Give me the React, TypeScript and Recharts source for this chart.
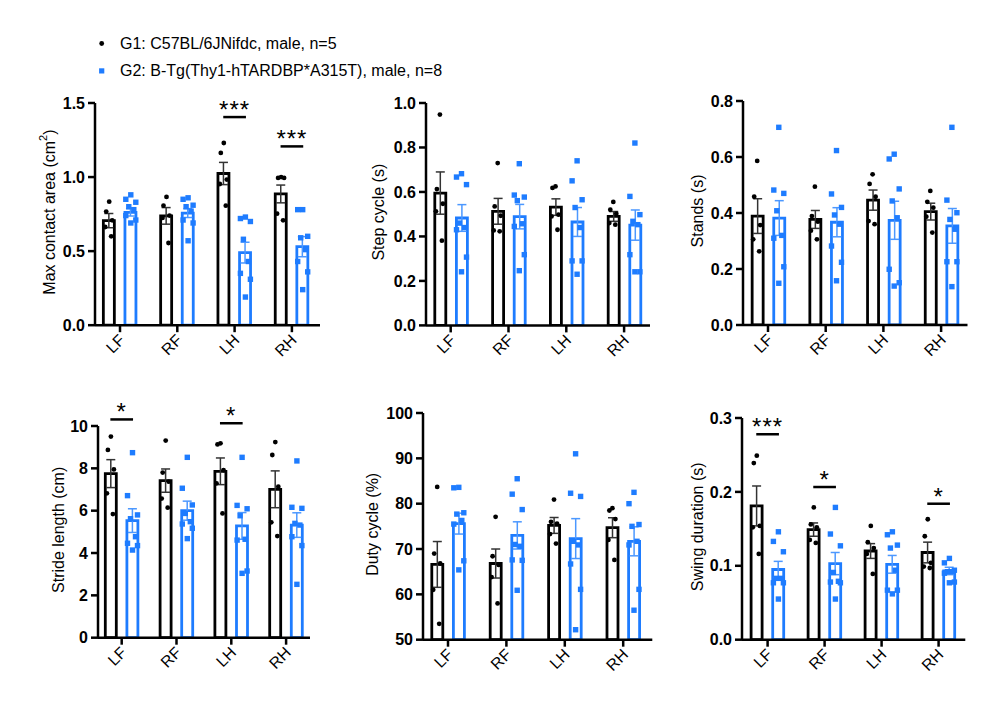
import React from 'react';
import { ComposedChart, Bar, Scatter, XAxis, YAxis, ErrorBar, ReferenceLine } from 'recharts';

const LIMBS = ['LF', 'RF', 'LH', 'RH'];
const G1_LABEL = 'G1: C57BL/6JNifdc, male, n=5';
const G2_LABEL = 'G2: B-Tg(Thy1-hTARDBP*A315T), male, n=8';

// ---- Max contact area (cm2)
const contactG1Mean = [0.706, 0.738, 1.024, 0.886];
const contactG1Sem = [0.048, 0.056, 0.075, 0.06];
const contactG2Mean = [0.762, 0.757, 0.49, 0.53];
const contactG2Sem = [0.025, 0.03, 0.07, 0.068];
const contactG1Pts = [
  [0.834, 0.767, 0.708, 0.663, 0.6],
  [0.866, 0.807, 0.74, 0.724, 0.555],
  [1.23, 1.163, 0.983, 0.953, 0.807],
  [1.0, 0.994, 0.994, 0.753, 0.708],
];
const contactG2Pts = [
  [0.88, 0.85, 0.83, 0.8, 0.78, 0.74, 0.71, 0.69],
  [0.86, 0.85, 0.81, 0.8, 0.77, 0.71, 0.69, 0.57],
  [0.73, 0.72, 0.7, 0.58, 0.43, 0.35, 0.31, 0.19],
  [0.78, 0.78, 0.6, 0.59, 0.51, 0.43, 0.36, 0.24],
];
const contactSig = [
  { cat: 2, y: 1.405, text: '***' },
  { cat: 3, y: 1.207, text: '***' },
];

// ---- Step cycle (s)
const stepG1Mean = [0.595, 0.513, 0.532, 0.49];
const stepG1Sem = [0.095, 0.058, 0.037, 0.022];
const stepG2Mean = [0.483, 0.489, 0.465, 0.451];
const stepG2Sem = [0.06, 0.055, 0.065, 0.068];
const stepG1Pts = [
  [0.948, 0.613, 0.547, 0.513, 0.381],
  [0.73, 0.535, 0.493, 0.427, 0.423],
  [0.625, 0.618, 0.498, 0.49, 0.43],
  [0.555, 0.52, 0.502, 0.46, 0.453],
];
const stepG2Pts = [
  [0.682, 0.667, 0.633, 0.46, 0.44, 0.43, 0.307, 0.241],
  [0.727, 0.586, 0.577, 0.561, 0.457, 0.445, 0.318, 0.246],
  [0.74, 0.65, 0.565, 0.53, 0.44, 0.29, 0.29, 0.23],
  [0.82, 0.58, 0.498, 0.468, 0.453, 0.318, 0.241, 0.241],
];
const stepSig: { cat: number; y: number; text: string }[] = [];

// ---- Stands (s)
const standG1Mean = [0.389, 0.377, 0.446, 0.405];
const standG1Sem = [0.062, 0.032, 0.036, 0.03];
const standG2Mean = [0.382, 0.367, 0.374, 0.354];
const standG2Sem = [0.062, 0.052, 0.068, 0.062];
const standG1Pts = [
  [0.586, 0.458, 0.357, 0.306, 0.263],
  [0.494, 0.389, 0.369, 0.337, 0.306],
  [0.538, 0.504, 0.458, 0.371, 0.36],
  [0.479, 0.44, 0.419, 0.387, 0.33],
];
const standG2Pts = [
  [0.706, 0.482, 0.47, 0.408, 0.32, 0.31, 0.208, 0.149],
  [0.623, 0.468, 0.42, 0.393, 0.36, 0.282, 0.224, 0.158],
  [0.61, 0.593, 0.486, 0.443, 0.383, 0.199, 0.151, 0.139],
  [0.706, 0.446, 0.401, 0.377, 0.342, 0.226, 0.226, 0.137],
];
const standSig: { cat: number; y: number; text: string }[] = [];

// ---- Stride length (cm)
const strideG1Mean = [7.75, 7.42, 7.86, 7.01];
const strideG1Sem = [0.66, 0.55, 0.63, 0.87];
const strideG2Mean = [5.53, 6.0, 5.28, 5.32];
const strideG2Sem = [0.56, 0.45, 0.63, 0.58];
const strideG1Pts = [
  [9.5, 8.87, 7.95, 6.82, 5.84],
  [9.31, 7.8, 7.37, 6.57, 6.14],
  [9.18, 9.13, 7.92, 7.29, 5.87],
  [9.24, 8.63, 7.13, 5.45, 4.8],
];
const strideG2Pts = [
  [8.74, 6.71, 5.8, 5.62, 4.77, 4.46, 4.35, 4.14],
  [8.52, 7.06, 6.27, 5.87, 5.48, 5.37, 5.17, 4.68],
  [8.52, 6.25, 6.09, 5.76, 4.65, 4.61, 3.15, 3.04],
  [8.35, 6.16, 6.11, 5.4, 5.32, 4.77, 4.35, 2.52],
];
const strideSig = [
  { cat: 0, y: 10.31, text: '*' },
  { cat: 2, y: 10.13, text: '*' },
];

// ---- Duty cycle (%)
const dutyG1Mean = [66.6, 66.8, 75.2, 74.7];
const dutyG1Sem = [5.05, 3.2, 1.75, 2.2];
const dutyG2Mean = [75.6, 73.0, 72.3, 71.7];
const dutyG2Sem = [2.3, 3.0, 4.4, 3.2];
const dutyG1Pts = [
  [83.7, 69.0, 66.8, 61.0, 53.5],
  [77.1, 68.4, 66.5, 63.8, 58.0],
  [80.9, 76.0, 75.6, 73.3, 71.2],
  [79.0, 78.5, 76.6, 72.0, 67.6],
];
const dutyG2Pts = [
  [83.6, 83.5, 78.0, 77.7, 76.3, 75.5, 67.4, 65.4],
  [85.5, 82.1, 78.7, 71.0, 70.6, 67.6, 67.5, 60.9],
  [91.0, 82.3, 81.6, 71.7, 70.9, 66.7, 61.1, 52.2],
  [82.5, 80.0, 75.4, 75.0, 71.7, 70.9, 61.1, 56.5],
];
const dutySig: { cat: number; y: number; text: string }[] = [];

// ---- Swing duration (s)
const swingG1Mean = [0.181, 0.149, 0.12, 0.118];
const swingG1Sem = [0.027, 0.009, 0.01, 0.014];
const swingG2Mean = [0.095, 0.103, 0.102, 0.093];
const swingG2Sem = [0.011, 0.015, 0.012, 0.005];
const swingG1Pts = [
  [0.249, 0.239, 0.154, 0.152, 0.116],
  [0.179, 0.156, 0.152, 0.135, 0.131],
  [0.154, 0.132, 0.124, 0.116, 0.089],
  [0.163, 0.14, 0.104, 0.099, 0.097],
];
const swingG2Pts = [
  [0.146, 0.133, 0.119, 0.083, 0.083, 0.077, 0.077, 0.055],
  [0.179, 0.143, 0.127, 0.091, 0.079, 0.078, 0.077, 0.055],
  [0.146, 0.142, 0.128, 0.124, 0.094, 0.067, 0.067, 0.062],
  [0.11, 0.104, 0.094, 0.092, 0.092, 0.09, 0.078, 0.077],
];
const swingSig = [
  { cat: 0, y: 0.278, text: '***' },
  { cat: 1, y: 0.2066, text: '*' },
  { cat: 3, y: 0.184, text: '*' },
];

// ---- styling
const FONT = '"Liberation Sans", Arial, Helvetica, sans-serif';
const G1_COLOR = '#000000';
const G2_COLOR = '#1E7CFF';
const G1_ERR = '#333333';
const G2_ERR = '#4C98FF';
const BAR_SIZE = 11;
const BAR_GAP = 10.6;
const GROUP_OFFSET = (BAR_SIZE + BAR_GAP) / 2;
const JIT5 = [0, -3, 3, -4, 2];
const JIT8 = [0, -5, 5, -2, 3, -5, 5, 0];
const Y_AXIS_W = 70;
const M_TOP = 40;
const M_RIGHT = 10;
const X_AXIS_H = 60;

type Panel = {
  title: React.ReactNode;
  g1Mean: number[]; g1Sem: number[]; g2Mean: number[]; g2Sem: number[];
  g1Pts: number[][]; g2Pts: number[][];
  sig: { cat: number; y: number; text: string }[];
  domain: [number, number]; ticks: number[]; dec: number;
  axisX: number; axisRight: number; yTop: number; yBottom: number;
  tick0: number; spacing: number; titleDist: number;
};

const panels: Panel[] = [
  {
    title: (<>Max contact area (cm<tspan dy={-6} fontSize={11}>2</tspan><tspan dy={6}>)</tspan></>),
    g1Mean: contactG1Mean, g1Sem: contactG1Sem, g2Mean: contactG2Mean, g2Sem: contactG2Sem,
    g1Pts: contactG1Pts, g2Pts: contactG2Pts, sig: contactSig,
    domain: [0, 1.5], ticks: [0, 0.5, 1.0, 1.5], dec: 1,
    axisX: 95, axisRight: 320, yTop: 103.3, yBottom: 325.5, tick0: 120, spacing: 57.3, titleDist: 46,
  },
  {
    title: 'Step cycle (s)',
    g1Mean: stepG1Mean, g1Sem: stepG1Sem, g2Mean: stepG2Mean, g2Sem: stepG2Sem,
    g1Pts: stepG1Pts, g2Pts: stepG2Pts, sig: stepSig,
    domain: [0, 1.0], ticks: [0, 0.2, 0.4, 0.6, 0.8, 1.0], dec: 1,
    axisX: 426, axisRight: 650, yTop: 103.3, yBottom: 325.7, tick0: 450.7, spacing: 57.8, titleDist: 47,
  },
  {
    title: 'Stands (s)',
    g1Mean: standG1Mean, g1Sem: standG1Sem, g2Mean: standG2Mean, g2Sem: standG2Sem,
    g1Pts: standG1Pts, g2Pts: standG2Pts, sig: standSig,
    domain: [0, 0.8], ticks: [0, 0.2, 0.4, 0.6, 0.8], dec: 1,
    axisX: 742.5, axisRight: 967, yTop: 101, yBottom: 325, tick0: 767.5, spacing: 57.7, titleDist: 46,
  },
  {
    title: 'Stride length (cm)',
    g1Mean: strideG1Mean, g1Sem: strideG1Sem, g2Mean: strideG2Mean, g2Sem: strideG2Sem,
    g1Pts: strideG1Pts, g2Pts: strideG2Pts, sig: strideSig,
    domain: [0, 10], ticks: [0, 2, 4, 6, 8, 10], dec: 0,
    axisX: 98, axisRight: 310, yTop: 426, yBottom: 637.7, tick0: 121.7, spacing: 54.8, titleDist: 40,
  },
  {
    title: 'Duty cycle (%)',
    g1Mean: dutyG1Mean, g1Sem: dutyG1Sem, g2Mean: dutyG2Mean, g2Sem: dutyG2Sem,
    g1Pts: dutyG1Pts, g2Pts: dutyG2Pts, sig: dutySig,
    domain: [50, 100], ticks: [50, 60, 70, 80, 90, 100], dec: 0,
    axisX: 422.7, axisRight: 652, yTop: 413.3, yBottom: 640, tick0: 447.7, spacing: 58.4, titleDist: 51,
  },
  {
    title: 'Swing duration (s)',
    g1Mean: swingG1Mean, g1Sem: swingG1Sem, g2Mean: swingG2Mean, g2Sem: swingG2Sem,
    g1Pts: swingG1Pts, g2Pts: swingG2Pts, sig: swingSig,
    domain: [0, 0.3], ticks: [0, 0.1, 0.2, 0.3], dec: 1,
    axisX: 741.7, axisRight: 965, yTop: 418.3, yBottom: 640, tick0: 767.3, spacing: 57, titleDist: 45,
  },
];

const XTick = (props: any) => {
  const { x, y, payload } = props;
  return (
    <g transform={`translate(${x + 2},${y + 3})`}>
      <text x={0} y={0} textAnchor="end" dominantBaseline="central" transform="rotate(-45)"
        fontSize={16} fill="#000" fontFamily={FONT}>
        {LIMBS[payload.value]}
      </text>
    </g>
  );
};

const circleShape = (p: any) => (
  <circle cx={p.cx - GROUP_OFFSET + (p.payload?.j ?? 0)} cy={p.cy} r={2.4} fill={G1_COLOR} />
);
const squareShape = (p: any) => (
  <rect x={p.cx + GROUP_OFFSET + (p.payload?.j ?? 0) - 2.7} y={p.cy - 2.7} width={5.4} height={5.4} fill={G2_COLOR} />
);

function PanelChart({ p }: { p: Panel }) {
  const plotW = p.axisRight - p.axisX;
  const plotH = p.yBottom - p.yTop;
  const width = Y_AXIS_W + plotW + M_RIGHT;
  const height = M_TOP + plotH + X_AXIS_H;
  const left = p.axisX - Y_AXIS_W;
  const top = p.yTop - M_TOP;
  const lo = (p.axisX - p.tick0) / p.spacing;
  const hi = (p.axisRight - p.tick0) / p.spacing;
  const off = GROUP_OFFSET / p.spacing;

  const rows = LIMBS.map((_, i) => ({
    x: i, g1: p.g1Mean[i], g1e: p.g1Sem[i], g2: p.g2Mean[i], g2e: p.g2Sem[i],
  }));
  const g1Scatter = p.g1Pts.flatMap((arr, i) => arr.map((v, k) => ({ x: i, y: v, j: JIT5[k % JIT5.length] })));
  const g2Scatter = p.g2Pts.flatMap((arr, i) => arr.map((v, k) => ({ x: i, y: v, j: JIT8[k % JIT8.length] })));

  const titleContent = (props: any) => {
    const vb = props.viewBox || {};
    const cx = vb.x + vb.width - p.titleDist;
    const cy = vb.y + vb.height / 2 - 2;
    return (
      <text x={cx} y={cy} transform={`rotate(-90, ${cx}, ${cy})`} textAnchor="middle"
        dominantBaseline="central" fontSize={16} fill="#000" fontFamily={FONT}>
        {p.title}
      </text>
    );
  };

  return (
    <div style={{ position: 'absolute', left, top, width, height }}>
      <ComposedChart width={width} height={height} data={rows}
        margin={{ top: M_TOP, right: M_RIGHT, bottom: 0, left: 0 }}
        barSize={BAR_SIZE} barGap={BAR_GAP}>
        <XAxis type="number" dataKey="x" domain={[lo, hi]} ticks={[0, 1, 2, 3]} interval={0}
          height={X_AXIS_H} tick={<XTick />} tickSize={7} tickMargin={2}
          axisLine={{ stroke: '#000', strokeWidth: 2.5 }}
          tickLine={{ stroke: '#000', strokeWidth: 2.5 }} allowDataOverflow />
        <YAxis type="number" domain={p.domain} ticks={p.ticks} interval={0} width={Y_AXIS_W}
          tickSize={7} tickMargin={3}
          tick={{ fill: '#000', fontSize: 16, fontWeight: 700, fontFamily: FONT }}
          tickFormatter={(v: number) => v.toFixed(p.dec)}
          axisLine={{ stroke: '#000', strokeWidth: 2.5 }}
          tickLine={{ stroke: '#000', strokeWidth: 2.5 }}
          allowDataOverflow
          label={titleContent} />
        <Bar dataKey="g1" fill="none" stroke={G1_COLOR} strokeWidth={2.8} isAnimationActive={false}>
          <ErrorBar dataKey="g1e" width={4.5} stroke={G1_ERR} strokeWidth={1.5} />
        </Bar>
        <Bar dataKey="g2" fill="none" stroke={G2_COLOR} strokeWidth={2.8} isAnimationActive={false}>
          <ErrorBar dataKey="g2e" width={4.5} stroke={G2_ERR} strokeWidth={1.5} />
        </Bar>
        <Scatter data={g1Scatter} dataKey="y" shape={circleShape} isAnimationActive={false} />
        <Scatter data={g2Scatter} dataKey="y" shape={squareShape} isAnimationActive={false} />
        {p.sig.map((s, k) => (
          <ReferenceLine key={k} ifOverflow="visible"
            segment={[{ x: s.cat - off * 1.05, y: s.y }, { x: s.cat + off * 1.05, y: s.y }]}
            stroke="#000" strokeWidth={2.5}
            label={{ value: s.text, position: 'top', offset: -1, fontSize: 24, fill: '#000', fontFamily: FONT, letterSpacing: 1 }} />
        ))}
      </ComposedChart>
    </div>
  );
}

export default function App() {
  return (
    <div style={{ position: 'absolute', left: 0, top: 0, width: 1001, height: 721, background: '#fff', fontFamily: FONT, overflow: 'hidden' }}>
      {panels.map((p, i) => <PanelChart key={i} p={p} />)}
      <div style={{ position: 'absolute', left: 0, top: 0, width: 500, height: 90 }}>
        <svg width={500} height={90} style={{ position: 'absolute', left: 0, top: 0 }}>
          <circle cx={101.7} cy={43.5} r={2.4} fill={G1_COLOR} />
          <rect x={99.1} y={68.3} width={5.2} height={5.2} fill={G2_COLOR} />
          <text x={120} y={43.5} dominantBaseline="central" fontSize={16} fill="#000" fontFamily={FONT}>{G1_LABEL}</text>
          <text x={120} y={70.8} dominantBaseline="central" fontSize={16} fill="#000" fontFamily={FONT}>{G2_LABEL}</text>
        </svg>
      </div>
    </div>
  );
}
